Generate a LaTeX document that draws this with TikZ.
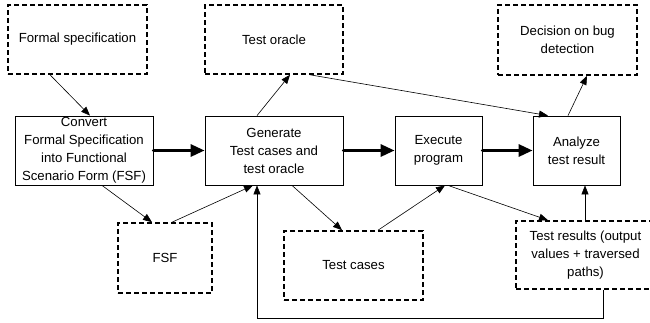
\documentclass[tikz,border=0pt]{standalone}
\usepackage{fontspec}
\setmainfont{Liberation Sans}
\usetikzlibrary{arrows.meta,calc}
\begin{document}
\begin{tikzpicture}[x=1pt,y=-1pt,
 box/.style={draw,line width=0.8pt,rectangle,align=center,inner sep=0pt,font=\fontsize{13.2}{18}\selectfont},
 dbox/.style={box,line width=1.6pt,dash pattern=on 5pt off 3pt},
 thinarrow/.style={line width=0.6pt,-{Triangle[length=9pt,width=7pt]}},
 thickarrow/.style={line width=3pt,line cap=round,-{Triangle[length=14pt,width=12pt]}}]
\useasboundingbox (0,0) rectangle (650,322);
% dashed boxes
\node[dbox,minimum width=139pt,minimum height=69pt] (fs) at (77.5,39.5) {Formal specification};
\node[dbox,minimum width=138pt,minimum height=69pt] (to) at (274,39.5) {Test oracle};
\node[dbox,minimum width=139pt,minimum height=70pt] (dec) at (567.5,40) {Decision on bug\\detection};
\node[dbox,minimum width=94pt,minimum height=70pt] (fsf) at (165,258) {FSF};
\node[dbox,minimum width=139pt,minimum height=69pt] (tc) at (353.5,265.5) {Test cases};
\node[dbox,minimum width=139pt,minimum height=68pt] (tr) at (585.5,255) {Test results (output\\values + traversed\\paths)};
% solid boxes
\node[box,minimum width=138pt,minimum height=69pt] (conv) at (84,150.5) {Convert\\Formal Specification\\into Functional\\Scenario Form (FSF)};
\node[box,minimum width=138pt,minimum height=69pt] (gen) at (274,150.5) {Generate\\Test cases and\\test oracle};
\node[box,minimum width=87pt,minimum height=69pt] (exe) at (438.5,150.5) {Execute\\program};
\node[box,minimum width=87pt,minimum height=69pt] (ana) at (576.5,150.5) {Analyze\\test result};
% thick arrows
\draw[thickarrow] (conv.east) -- (gen.west);
\draw[thickarrow] (gen.east) -- (exe.west);
\draw[thickarrow] (exe.east) -- (ana.west);
% thin arrows
\draw[thinarrow] ([xshift=-27.5pt]fs.south) -- ([xshift=6pt]conv.north);
\draw[thinarrow] ([xshift=-17pt]gen.north) -- ([xshift=16pt]to.south);
\draw[thinarrow] ([xshift=36pt]to.south) -- ([xshift=-28.5pt]ana.north);
\draw[thinarrow] ([xshift=-8.5pt]ana.north) -- ([xshift=19.5pt]dec.south);
\draw[thinarrow] ([xshift=18pt]conv.south) -- ([xshift=-13pt]fsf.north);
\draw[thinarrow] ([xshift=7pt]fsf.north) -- ([xshift=-21pt]gen.south);
\draw[thinarrow] ([xshift=18pt]gen.south) -- ([xshift=-11.5pt]tc.north);
\draw[thinarrow] ([xshift=24.5pt]tc.north) -- ([xshift=6.5pt]exe.south);
\draw[thinarrow] ([xshift=9.5pt]exe.south) -- ([xshift=-37.5pt]tr.north);
\draw[thinarrow] ([xshift=-0.5pt]tr.north) -- ([xshift=8.5pt]ana.south);
\draw[thinarrow] ([xshift=17.5pt]tr.south) -- ++(0,28) -| ([xshift=-17pt]gen.south);
\end{tikzpicture}
\end{document}
